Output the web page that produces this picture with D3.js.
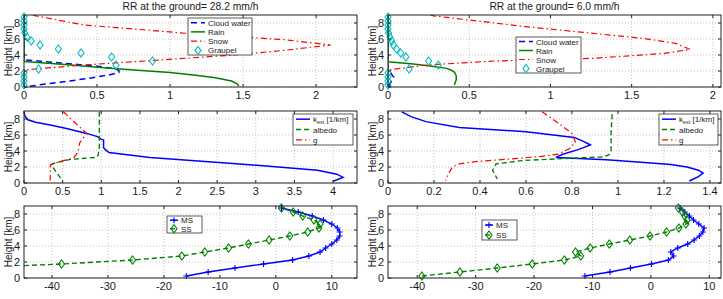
<!DOCTYPE html>
<html>
<head>
<meta charset="utf-8">
<script src="https://cdnjs.cloudflare.com/ajax/libs/d3/7.8.5/d3.min.js"></script>
<style>
body { margin: 0; background: #fff; }
svg text { font-family: "Liberation Sans", Arial, sans-serif; fill: #1a1a1a; }
.grid { stroke: #b4b4b4; stroke-width: 0.8; stroke-dasharray: 1,2; }
</style>
</head>
<body>
<svg id="chart" width="723" height="299"></svg>
<script>
////////////////////////////////////////////////////////////////////////////////
// data
var titles = ["RR at the ground= 28.2 mm/h", "RR at the ground= 6.0 mm/h"];
var levels = [0.25, 0.75, 1.25, 1.75, 2.25, 2.75, 3.25, 3.75, 4.25, 4.75, 5.25, 5.75, 6.25, 6.75, 7.25, 7.75, 8.25, 8.75];

// hydrometeor contents, left column (28.2 mm/h)
var cwA_h = [0.1, 0.25, 0.6, 1.1, 1.5, 1.8, 2.1, 2.35, 2.6, 3.0, 3.4, 9];
var cwA_v = [0.04, 0.1, 0.25, 0.45, 0.58, 0.65, 0.65, 0.6, 0.5, 0.25, 0, 0];
var rainA_h = [9, 3.25, 3.2, 2.8, 2.33, 2.1, 1.8, 1.5, 1.2, 0.95, 0.75, 0.4, 0.12];
var rainA_v = [0, 0, 0, 0.28, 0.59, 0.78, 1.0, 1.16, 1.3, 1.37, 1.42, 1.46, 1.47];
var snowA_h = [9, 8.9, 7.75, 6.7, 5.9, 5.25, 4.6, 4.0, 3.3, 2.75, 2.25, 2.1, 0.1];
var snowA_v = [0.06, 0.08, 0.41, 1.12, 1.79, 2.1, 1.79, 1.44, 0.87, 0.41, 0.07, 0, 0];
var grpA_v = [0, 0, 0, 0, 0.1, 0.63, 0.88, 0.6, 0.39, 0.235, 0.11, 0.05, 0.02, 0.005, 0, 0, 0, 0];

// hydrometeor contents, right column (6.0 mm/h)
var cwB_h = [0.1, 0.5, 1.0, 1.25, 1.5, 2.0, 2.3, 9];
var cwB_v = [0.005, 0.015, 0.03, 0.035, 0.025, 0.01, 0, 0];
var rainB_h = [9, 3.25, 3.17, 2.87, 2.6, 2.33, 2.1, 1.83, 1.4, 0.9, 0.37, 0.25];
var rainB_v = [0, 0, 0, 0.156, 0.27, 0.36, 0.39, 0.41, 0.42, 0.42, 0.41, 0.41];
var snowB_h = [9, 8.9, 7.54, 6.08, 5.46, 4.7, 4.2, 3.58, 3.25, 2.75, 2.2, 2.1, 0.1];
var snowB_v = [0.26, 0.28, 0.85, 1.57, 1.77, 1.86, 1.7, 1.26, 0.65, 0.24, 0.03, 0, 0];
var grpB_v = [0, 0, 0, 0, 0.13, 0.31, 0.25, 0.11, 0.078, 0.053, 0.033, 0.023, 0.012, 0.004, 0, 0, 0, 0];

// optical properties, left column
var kextA_h = [8.9, 8.4, 7.9, 7.6, 7.25, 6.8, 6.2, 5.8, 5.45, 5.4, 4.4, 4.2, 3.8, 3.2, 2.45, 1.6, 1.1, 0.7, 0.4, 0.2];
var kextA_v = [0, 0.01, 0.05, 0.15, 0.34, 0.55, 0.81, 0.95, 1.0, 1.03, 1.03, 1.05, 1.1, 1.63, 2.7, 3.8, 4.05, 4.13, 4.05, 4.0];
var albA_h = [8.9, 4.5, 3.5, 3.2, 2.95, 2.45, 2.25, 1.6, 0.4];
var albA_v = [0.975, 0.975, 0.96, 0.94, 0.6, 0.38, 0.35, 0.40, 0.49];
var gA_h = [8.9, 6.2, 5.0, 3.9, 3.1, 2.7, 2.25, 0.3];
var gA_v = [0.51, 0.81, 0.72, 0.7, 0.64, 0.47, 0.34, 0.34];

// optical properties, right column
var kextB_h = [8.9, 8.3, 7.67, 6.95, 6.4, 5.7, 5.2, 4.75, 4.2, 3.6, 3.2, 2.9, 2.6, 2.3, 2.0, 1.6, 1.25, 0.8, 0.25];
var kextB_v = [0.06, 0.1, 0.165, 0.31, 0.6, 0.81, 0.85, 0.88, 0.83, 0.76, 0.73, 0.95, 1.1, 1.23, 1.3, 1.35, 1.37, 1.35, 1.31];
var albB_h = [8.6, 6.5, 4.0, 3.5, 3.25, 3.1, 2.8, 2.4, 1.6, 0.5];
var albB_v = [0.975, 0.97, 0.97, 0.96, 0.93, 0.8, 0.58, 0.47, 0.455, 0.475];
var gB_h = [8.9, 7.5, 6.2, 5.1, 4.3, 3.6, 3.3, 3.0, 2.7, 2.4, 2.0, 1.0, 0.3];
var gB_v = [0.67, 0.74, 0.8, 0.815, 0.79, 0.74, 0.66, 0.53, 0.39, 0.31, 0.28, 0.26, 0.25];

// MS / SS, left column
var msA_v = [-16, -12.1, -7.3, -2.2, 3.0, 5.9, 7.9, 8.9, 10.0, 10.9, 11.4, 11.4, 11.0, 10.0, 8.5, 6.5, 4.0, 1.0];
var ssA_h = [1.25, 1.75, 2.25, 2.75, 3.25, 3.75, 4.25, 4.75, 5.25, 5.75, 6.25, 6.75, 7.25, 7.75, 8.25, 8.75];
var ssA_v = [-55, -38.3, -25.6, -16.8, -12.7, -8.45, -4.9, -1.2, 2.5, 5.7, 7.7, 7.9, 6.8, 4.8, 3.1, 1.0];

// MS / SS, right column
var msB_v = [-11.3, -7.0, -3.5, 0.1, 3.0, 3.9, 3.4, 4.6, 6.3, 7.4, 8.3, 8.9, 9.1, 8.2, 7.3, 6.6, 5.8, 5.0];
var ssB_v = [-39.2, -32.7, -26.3, -20.3, -14.8, -12.0, -12.9, -10.4, -7.1, -3.6, -0.15, 2.7, 4.8, 6.0, 6.2, 5.8, 5.4, 4.7];

// ticks
var yTicks = [0, 2, 4, 6, 8];
var xTicksTop = [0, 0.5, 1, 1.5, 2];
var xTicksMidA = [0, 0.5, 1, 1.5, 2, 2.5, 3, 3.5, 4];
var xTicksMidB = [0, 0.2, 0.4, 0.6, 0.8, 1, 1.2, 1.4];
var xTicksBot = [-40, -30, -20, -10, 0, 10];

////////////////////////////////////////////////////////////////////////////////
var svg = d3.select("#chart");
var BLUE = "#0000ff", GREEN = "#008000", RED = "#ff0000", CYAN = "#00bfbf";
var diamond = "M0,-4L3,0L0,4L-3,0Z";
var plus = "M-3,0H3M0,-3V3";
var clipCount = 0;

function zip(h, v) {
  return h.map(function(d, i) { return {h: d, v: v[i]}; });
}; // end zip

function drawPanel(p) {
  var x = d3.scaleLinear().domain(p.xdom).range([p.x0, p.x1]);
  var y = d3.scaleLinear().domain([0, 9]).range([p.y1, p.y0]);
  var g = svg.append("g");

  // grid
  g.selectAll(null).data(p.xticks).enter().append("line")
   .attr("class", "grid")
   .attr("x1", function(d) { return x(d); }).attr("x2", function(d) { return x(d); })
   .attr("y1", p.y0).attr("y2", p.y1);
  g.selectAll(null).data(yTicks).enter().append("line")
   .attr("class", "grid")
   .attr("y1", function(d) { return y(d); }).attr("y2", function(d) { return y(d); })
   .attr("x1", p.x0).attr("x2", p.x1);

  // series
  var cid = "clip" + (clipCount++);
  svg.append("clipPath").attr("id", cid).append("rect")
     .attr("x", p.x0).attr("y", p.y0).attr("width", p.x1 - p.x0).attr("height", p.y1 - p.y0);
  var lines = g.append("g").attr("clip-path", "url(#" + cid + ")");
  p.series.forEach(function(s) {
    var pts = zip(s.h, s.v);
    if (s.line) {
      lines.append("path").datum(pts)
           .attr("d", d3.line().x(function(d) { return x(d.v); }).y(function(d) { return y(d.h); }))
           .attr("fill", "none")
           .attr("stroke", s.color)
           .attr("stroke-width", s.w || 1.4)
           .attr("stroke-dasharray", s.dash || null);
    }
    if (s.marker) {
      g.selectAll(null)
       .data(pts.filter(function(d) { return d.v >= p.xdom[0] && d.v <= p.xdom[1]; }))
       .enter().append("path")
       .attr("transform", function(d) { return "translate(" + x(d.v) + "," + y(d.h) + ")"; })
       .attr("d", s.marker)
       .attr("fill", "none")
       .attr("stroke", s.color)
       .attr("stroke-width", 1.1);
    }
  });

  // box + inward ticks
  g.append("rect").attr("x", p.x0).attr("y", p.y0)
   .attr("width", p.x1 - p.x0).attr("height", p.y1 - p.y0)
   .attr("fill", "none").attr("stroke", "#222").attr("stroke-width", 1);
  p.xticks.forEach(function(t) {
    g.append("line").attr("x1", x(t)).attr("x2", x(t)).attr("y1", p.y1).attr("y2", p.y1 - 3).attr("stroke", "#222");
    g.append("line").attr("x1", x(t)).attr("x2", x(t)).attr("y1", p.y0).attr("y2", p.y0 + 3).attr("stroke", "#222");
  });
  yTicks.forEach(function(t) {
    g.append("line").attr("y1", y(t)).attr("y2", y(t)).attr("x1", p.x0).attr("x2", p.x0 + 3).attr("stroke", "#222");
    g.append("line").attr("y1", y(t)).attr("y2", y(t)).attr("x1", p.x1).attr("x2", p.x1 - 3).attr("stroke", "#222");
  });

  // tick labels
  g.selectAll(null).data(p.xticks).enter().append("text")
   .attr("x", function(d) { return x(d); })
   .attr("y", p.y1 + 12)
   .attr("text-anchor", "middle")
   .style("font-size", "11px")
   .text(function(d) { return String(d); });
  g.selectAll(null).data(yTicks).enter().append("text")
   .attr("x", p.x0 - 4)
   .attr("y", function(d) { return y(d) + 4; })
   .attr("text-anchor", "end")
   .style("font-size", "11px")
   .text(function(d) { return String(d); });

  // y label
  g.append("text")
   .attr("transform", "translate(" + p.ylabX + "," + ((p.y0 + p.y1) / 2) + ") rotate(-90)")
   .attr("text-anchor", "middle")
   .style("font-size", "10px")
   .text("Height [km]");

  if (p.title) {
    g.append("text").attr("x", (p.x0 + p.x1) / 2).attr("y", 9.5)
     .attr("text-anchor", "middle").style("font-size", "10.3px").text(p.title);
  }

  // legend
  var L = p.legend;
  g.append("rect").attr("x", L.x).attr("y", L.y).attr("width", L.w).attr("height", L.h)
   .attr("fill", "#fff").attr("stroke", "#333").attr("stroke-width", 0.8);
  var n = L.items.length;
  L.items.forEach(function(it, i) {
    var cy = L.y + L.h * (i + 0.5) / n;
    var s = p.series[i];
    if (s.line) {
      g.append("line").attr("x1", L.x + 3).attr("x2", L.x + L.sw).attr("y1", cy).attr("y2", cy)
       .attr("stroke", s.color).attr("stroke-width", s.w || 1.4).attr("stroke-dasharray", s.dash || null);
    }
    if (s.marker) {
      g.append("path").attr("transform", "translate(" + (L.x + 3 + (L.sw - 3) / 2) + "," + cy + ")")
       .attr("d", s.marker).attr("fill", "none").attr("stroke", s.color).attr("stroke-width", 1.1);
    }
    var t = g.append("text").attr("x", L.x + L.sw + 3).attr("y", cy + 3).style("font-size", "8px");
    if (it == "kext") {
      t.append("tspan").text("k");
      t.append("tspan").attr("dy", 2).style("font-size", "5.5px").text("ext");
      t.append("tspan").attr("dy", -2).text(" [1/km]");
    } else {
      t.text(it);
    }
  });
}; // end drawPanel

////////////////////////////////////////////////////////////////////////////////
var colX = [[24, 357, 12], [388, 721, 375.5]];
var rowY = [[15, 87], [111, 183], [206, 278]];

function hydroSeries(cwH, cwV, rH, rV, sH, sV, grV) {
  return [
    {h: cwH, v: cwV, line: true, color: BLUE, dash: "6,4", w: 1.5},
    {h: rH, v: rV, line: true, color: GREEN, w: 1.5},
    {h: sH, v: sV, line: true, color: RED, dash: "6,3,1.5,3", w: 1.2},
    {h: levels, v: grV, marker: diamond, color: CYAN}
  ];
}
function optSeries(kH, kV, aH, aV, gH, gV) {
  return [
    {h: kH, v: kV, line: true, color: BLUE, w: 1.5},
    {h: aH, v: aV, line: true, color: GREEN, dash: "5,3", w: 1.4},
    {h: gH, v: gV, line: true, color: RED, dash: "6,3,1.5,3", w: 1.2}
  ];
}

// top row
drawPanel({x0: colX[0][0], x1: colX[0][1], ylabX: colX[0][2], y0: rowY[0][0], y1: rowY[0][1],
  xdom: [0, 2.28], xticks: xTicksTop, title: titles[0],
  series: hydroSeries(cwA_h, cwA_v, rainA_h, rainA_v, snowA_h, snowA_v, grpA_v),
  legend: {x: 188, y: 18, w: 64, h: 37, sw: 17, items: ["Cloud water", "Rain", "Snow", "Graupel"]}});
drawPanel({x0: colX[1][0], x1: colX[1][1], ylabX: colX[1][2], y0: rowY[0][0], y1: rowY[0][1],
  xdom: [0, 2.05], xticks: xTicksTop, title: titles[1],
  series: hydroSeries(cwB_h, cwB_v, rainB_h, rainB_v, snowB_h, snowB_v, grpB_v),
  legend: {x: 516, y: 37, w: 65, h: 36, sw: 17, items: ["Cloud water", "Rain", "Snow", "Graupel"]}});

// middle row
drawPanel({x0: colX[0][0], x1: colX[0][1], ylabX: colX[0][2], y0: rowY[1][0], y1: rowY[1][1],
  xdom: [0, 4.31], xticks: xTicksMidA,
  series: optSeries(kextA_h, kextA_v, albA_h, albA_v, gA_h, gA_v),
  legend: {x: 293, y: 114, w: 60, h: 31, sw: 17, items: ["kext", "albedo", "g"]}});
drawPanel({x0: colX[1][0], x1: colX[1][1], ylabX: colX[1][2], y0: rowY[1][0], y1: rowY[1][1],
  xdom: [0, 1.448], xticks: xTicksMidB,
  series: optSeries(kextB_h, kextB_v, albB_h, albB_v, gB_h, gB_v),
  legend: {x: 659, y: 114, w: 59, h: 31, sw: 17, items: ["kext", "albedo", "g"]}});

// bottom row
drawPanel({x0: colX[0][0], x1: colX[0][1], ylabX: colX[0][2], y0: rowY[2][0], y1: rowY[2][1],
  xdom: [-45, 14.5], xticks: xTicksBot,
  series: [
    {h: levels, v: msA_v, line: true, marker: plus, color: BLUE, w: 1.4},
    {h: ssA_h, v: ssA_v, line: true, marker: diamond, color: GREEN, dash: "5,3", w: 1.4}
  ],
  legend: {x: 167, y: 216, w: 35, h: 17, sw: 11, items: ["MS", "SS"]}});
drawPanel({x0: colX[1][0], x1: colX[1][1], ylabX: colX[1][2], y0: rowY[2][0], y1: rowY[2][1],
  xdom: [-45, 12], xticks: xTicksBot,
  series: [
    {h: levels, v: msB_v, line: true, marker: plus, color: BLUE, w: 1.4},
    {h: levels, v: ssB_v, line: true, marker: diamond, color: GREEN, dash: "5,3", w: 1.4}
  ],
  legend: {x: 482, y: 220, w: 35, h: 20, sw: 11, items: ["MS", "SS"]}});
</script>
</body>
</html>
